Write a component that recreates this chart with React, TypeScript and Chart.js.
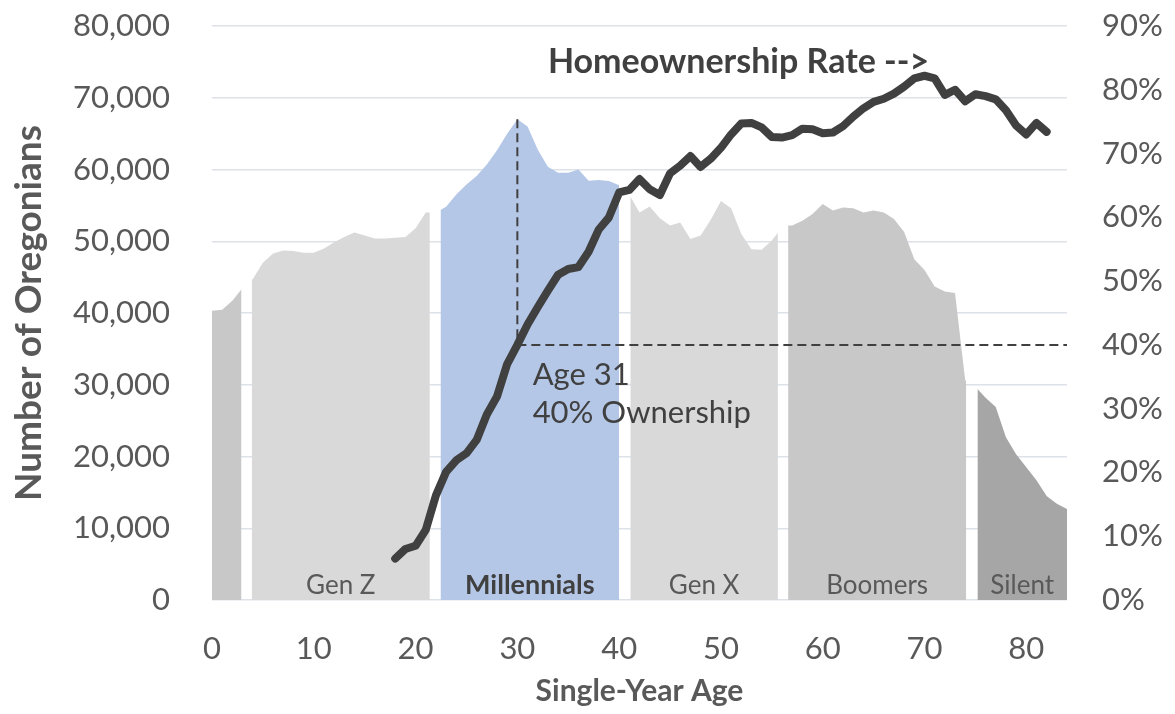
import React, { useEffect, useRef } from "react";
import { Chart, registerables } from "chart.js";

Chart.register(...registerables);

// ---- Data ----
const ages = [
  0, 1, 2, 3, 4, 5, 6, 7, 8, 9, 10, 11, 12, 13, 14, 15, 16, 17, 18, 19, 20,
  21, 22, 23, 24, 25, 26, 27, 28, 29, 30, 31, 32, 33, 34, 35, 36, 37, 38, 39,
  40, 41, 42, 43, 44, 45, 46, 47, 48, 49, 50, 51, 52, 53, 54, 55, 56, 57, 58,
  59, 60, 61, 62, 63, 64, 65, 66, 67, 68, 69, 70, 71, 72, 73, 74, 75, 76, 77,
  78, 79, 80, 81, 82, 83, 84,
];

const population = [
  40300, 40450, 41700, 43300, 44700, 47000, 48300, 48700, 48650, 48400, 48400,
  49000, 49850, 50600, 51230, 50800, 50370, 50400, 50500, 50600, 51800, 54000,
  54350, 54800, 56500, 57900, 59100, 60700, 62700, 65000, 67000, 66000, 62800,
  60400, 59560, 59560, 60000, 58440, 58550, 58400, 57800, 56250, 54000, 54840,
  53200, 52200, 52600, 50300, 50800, 53000, 55600, 54600, 51000, 48900, 48800,
  50100, 51200, 52200, 52850, 53800, 55200, 54300, 54700, 54600, 54000, 54300,
  54000, 53100, 51300, 47500, 46000, 43700, 43000, 42800, 30600, 29400, 28200,
  26900, 22700, 20300, 18500, 16700, 14500, 13400, 12700,
];

const generationNames = ["", "Gen Z", "Millennials", "Gen X", "Boomers", "Silent"];
const generationStart = [0, 3.9, 22.45, 41.1, 56.6, 75.2];
const generationEnd = [2.9, 21.4, 40, 55.6, 74.1, 84];
const generationColors = ["#c8c8c8", "#d9d9d9", "#b4c7e7", "#d9d9d9", "#c8c8c8", "#a6a6a6"];
const generationBold = [false, false, true, false, false, false];

const ownershipAges = [
  18, 19, 20, 21, 22, 23, 24, 25, 26, 27, 28, 29, 30, 31, 32, 33, 34, 35, 36,
  37, 38, 39, 40, 41, 42, 43, 44, 45, 46, 47, 48, 49, 50, 51, 52, 53, 54, 55,
  56, 57, 58, 59, 60, 61, 62, 63, 64, 65, 66, 67, 68, 69, 70, 71, 72, 73, 74,
  75, 76, 77, 78, 79, 80, 81, 82,
];

const ownershipRate = [
  6.5, 8.0, 8.5, 11.0, 16.4, 20.1, 21.9, 23.0, 25.1, 29.1, 31.9, 37.0, 40.0,
  43.2, 45.9, 48.5, 51.0, 51.9, 52.2, 54.6, 58.1, 60.0, 63.9, 64.3, 66.0, 64.4,
  63.5, 66.9, 68.1, 69.6, 67.9, 69.2, 70.9, 73.0, 74.7, 74.8, 74.1, 72.6, 72.5,
  72.9, 73.9, 73.8, 73.2, 73.3, 74.3, 75.8, 77.1, 78.1, 78.6, 79.4, 80.5, 81.8,
  82.2, 81.8, 79.2, 80.0, 78.2, 79.3, 79.0, 78.5, 76.8, 74.4, 73.0, 74.8, 73.4,
];

// Annotation values
const markerAge = 30; // where the dashed guide is drawn
const markerRate = 40;
const annotationTexts = ["Age 31", "40% Ownership"];
const annotationAge = 31.5;
const annotationRates = [35.3, 29.3];
const seriesLabel = "Homeownership Rate -->";
const seriesLabelAge = 33;
const seriesLabelRate = 84.3;

const leftTitle = "Number of Oregonians";
const bottomTitle = "Single-Year Age";

const FONT = "Lato, 'Open Sans', sans-serif";
const TEXT = "#595959";
const DARK = "#404040";

function popAt(age: number) {
  return population[ages.indexOf(Math.round(age))];
}

function segmentPoints(start: number, end: number) {
  const pts: { x: number; y: number }[] = [{ x: start, y: popAt(start) }];
  ages.forEach((a, i) => {
    if (a > start && a < end) pts.push({ x: a, y: population[i] });
  });
  pts.push({ x: end, y: popAt(end) });
  return pts;
}

export default function App() {
  const ref = useRef<HTMLCanvasElement | null>(null);

  useEffect(() => {
    if (!ref.current) return;
    const areaSets = generationNames.map((name, g) => ({
      type: "line" as const,
      label: name || "0-3",
      data: segmentPoints(generationStart[g], generationEnd[g]),
      yAxisID: "y",
      backgroundColor: generationColors[g],
      borderWidth: 0,
      pointRadius: 0,
      fill: "origin",
      tension: 0,
      order: 3,
    }));
    const lineSet = {
      type: "line" as const,
      label: "Homeownership Rate",
      data: ownershipAges.map((a, i) => ({ x: a, y: ownershipRate[i] })),
      yAxisID: "y2",
      borderColor: DARK,
      borderWidth: 8,
      borderJoinStyle: "round" as const,
      borderCapStyle: "round" as const,
      pointRadius: 0,
      fill: false,
      tension: 0,
      order: 1,
    };
    const LINE_INDEX = areaSets.length;

    const annot = {
      id: "annot",
      beforeDatasetDraw(chart: any, args: any) {
        if (args.index !== LINE_INDEX) return;
        const { ctx, scales, chartArea } = chart;
        const x = scales.x.getPixelForValue(markerAge);
        const yTop = scales.y.getPixelForValue(popAt(markerAge));
        const yMid = scales.y2.getPixelForValue(markerRate);
        ctx.save();
        ctx.strokeStyle = DARK;
        ctx.lineWidth = 2;
        ctx.setLineDash([9, 5]);
        ctx.beginPath();
        ctx.moveTo(x, yTop);
        ctx.lineTo(x, yMid);
        ctx.moveTo(x, yMid);
        ctx.lineTo(chartArea.right, yMid);
        ctx.stroke();
        ctx.restore();
      },
      afterDatasetsDraw(chart: any) {
        const { ctx, scales, chartArea } = chart;
        ctx.save();
        // generation labels
        ctx.textAlign = "center";
        ctx.textBaseline = "alphabetic";
        generationNames.forEach((n, g) => {
          if (!n) return;
          const cx = scales.x.getPixelForValue((generationStart[g] + generationEnd[g]) / 2);
          ctx.font = `${generationBold[g] ? "bold 27px" : "26px"} ${FONT}`;
          ctx.fillStyle = generationBold[g] ? DARK : TEXT;
          ctx.fillText(n, cx, chartArea.bottom - 6);
        });
        // annotation text
        ctx.textAlign = "left";
        ctx.textBaseline = "middle";
        ctx.fillStyle = DARK;
        ctx.font = `31px ${FONT}`;
        annotationTexts.forEach((t, i) => {
          ctx.fillText(t, scales.x.getPixelForValue(annotationAge), scales.y2.getPixelForValue(annotationRates[i]));
        });
        ctx.font = `bold 34px ${FONT}`;
        ctx.fillText(seriesLabel, scales.x.getPixelForValue(seriesLabelAge), scales.y2.getPixelForValue(seriesLabelRate));
        ctx.restore();
      },
    };

    const clearPad = (s: any) => {
      s.paddingTop = 0;
      s.paddingBottom = 0;
      s.paddingLeft = 0;
      s.paddingRight = 0;
    };

    const chart = new Chart(ref.current, {
      type: "line",
      data: { datasets: [...areaSets, lineSet] as any },
      options: {
        animation: false,
        responsive: true,
        maintainAspectRatio: false,
        layout: { padding: { top: 18, left: 0, right: 0, bottom: 0 } },
        plugins: { legend: { display: false }, tooltip: { enabled: false } },
        scales: {
          x: {
            type: "linear",
            min: 0,
            max: 84,
            grid: { display: false, drawTicks: false },
            border: { display: false },
            ticks: {
              stepSize: 10,
              includeBounds: false,
              color: TEXT,
              font: { family: FONT, size: 31 },
              padding: 30,
              maxRotation: 0,
            },
            title: {
              display: true,
              text: bottomTitle,
              color: TEXT,
              font: { family: FONT, size: 30, weight: "bold", lineHeight: 1 },
              padding: { top: 0, bottom: 0 },
            },
            afterFit: (s: any) => {
              s.height = 106;
              clearPad(s);
            },
          },
          y: {
            type: "linear",
            position: "left",
            min: 0,
            max: 80000,
            grid: { color: "#dde1e8", lineWidth: 1.5, drawTicks: false },
            border: { display: false },
            ticks: {
              stepSize: 10000,
              color: TEXT,
              font: { family: FONT, size: 31 },
              padding: 42,
              callback: (v: any) => Number(v).toLocaleString("en-US"),
            },
            title: {
              display: true,
              text: leftTitle,
              color: TEXT,
              font: { family: FONT, size: 37, weight: "bold", lineHeight: 1 },
              padding: { top: 3, bottom: 0 },
            },
            afterFit: (s: any) => {
              s.width = 204;
              clearPad(s);
            },
          },
          y2: {
            type: "linear",
            position: "right",
            min: 0,
            max: 90,
            grid: { display: false, drawTicks: false },
            border: { display: false },
            ticks: {
              stepSize: 10,
              color: TEXT,
              font: { family: FONT, size: 31 },
              padding: 35,
              callback: (v: any) => `${v}%`,
            },
            afterFit: (s: any) => {
              s.width = 100;
              clearPad(s);
            },
          },
        },
      },
      plugins: [annot],
    });
    return () => chart.destroy();
  }, []);

  return (
    <div style={{ position: "relative", width: 1159, height: 698 }}>
      <canvas ref={ref} />
    </div>
  );
}
